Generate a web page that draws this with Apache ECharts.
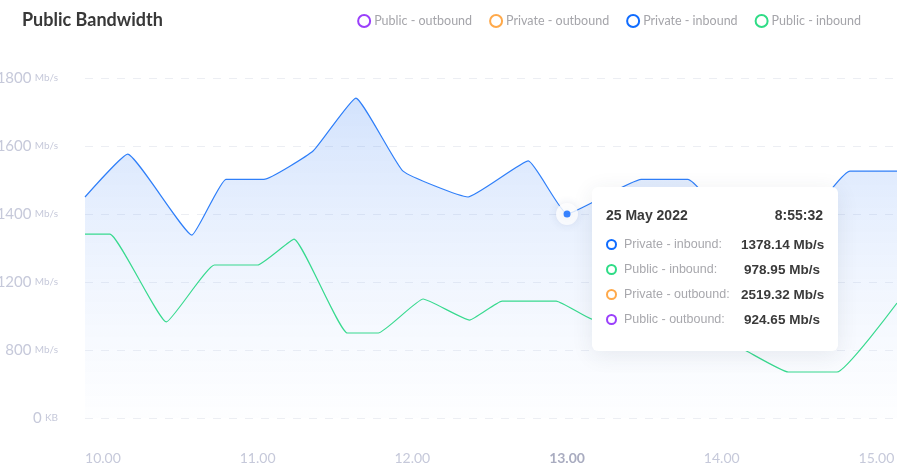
<!DOCTYPE html>
<html>
<head>
<meta charset="utf-8">
<title>Public Bandwidth</title>
<script src="https://cdn.jsdelivr.net/npm/echarts@6/dist/echarts.min.js"></script>
<style>
  html, body { margin: 0; padding: 0; background: #fff; }
  #bandwidth_chart { width: 897px; height: 473px; }
</style>
</head>
<body>
<div id="bandwidth_chart"></div>
<script>
// series names, in legend order
const seriesNames = ['Public - outbound', 'Private - outbound', 'Private - inbound', 'Public - inbound'];

// Private - inbound (hours, Mb/s)
const privateInTimes = [9.884, 10.16, 10.575, 10.795, 11.04, 11.36, 11.635, 11.94, 12.36, 12.75, 13.0, 13.48, 13.78, 14.29, 14.83, 15.133];
const privateInValues = [1450, 1576, 1338, 1502, 1502, 1586, 1741, 1526, 1450, 1556, 1400, 1502, 1502, 1236, 1526, 1526];

// Public - inbound (hours, Mb/s)
const publicInTimes = [9.884, 10.045, 10.41, 10.72, 11.0, 11.235, 11.58, 11.78, 12.07, 12.37, 12.58, 12.93, 13.16, 13.86, 14.16, 14.43, 14.745, 15.133];
const publicInValues = [1341, 1341, 965, 1250, 1250, 1326, 900, 900, 1100, 976, 1088, 1088, 982, 929, 788, 541, 541, 1076];

// y axis ticks (evenly spaced on screen)
const yTickValues = [0, 800, 1200, 1400, 1600, 1800];
const yTickUnits = ['KB', 'Mb/s', 'Mb/s', 'Mb/s', 'Mb/s', 'Mb/s'];

// x axis ticks
const xTickValues = [10, 11, 12, 13, 14, 15];
const xActiveTick = 13;

// tooltip readout
const tooltipDate = '25 May 2022';
const tooltipTime = '8:55:32';
const tooltipNames = ['Private - inbound', 'Public - inbound', 'Private - outbound', 'Public - outbound'];
const tooltipValues = ['1378.14', '978.95', '2519.32', '924.65'];
const hoverIndex = 10; // point of Private - inbound under the cursor

const colors = {
  'Public - outbound': '#9a3ffb',
  'Private - outbound': '#ffa94a',
  'Private - inbound': '#0f6cff',
  'Public - inbound': '#2fdc86'
};

// y ticks are evenly spaced, so map Mb/s onto tick slots
function toSlot(v) {
  for (let i = 1; i < yTickValues.length; i++) {
    if (v <= yTickValues[i]) {
      const a = yTickValues[i - 1], b = yTickValues[i];
      return i - 1 + (v - a) / (b - a);
    }
  }
  return yTickValues.length - 1;
}

function pairs(times, vals) {
  return times.map((t, i) => [t, toSlot(vals[i])]);
}

const font = 'Lato, "Noto Sans", sans-serif';

function ring(c) {
  return `<span style="display:inline-block;width:7px;height:7px;border:2px solid ${c};border-radius:50%;margin-right:7px;"></span>`;
}

function tooltipHtml() {
  let html = `<div style="width:217px;font-family:${font};">`;
  html += `<div style="display:flex;justify-content:space-between;font-size:14px;font-weight:700;color:#3a3a3a;line-height:18px;height:18px;margin-bottom:8px;">
             <span>${tooltipDate}</span><span>${tooltipTime}</span></div>`;
  tooltipNames.forEach((n, i) => {
    html += `<div style="display:flex;align-items:center;height:25px;">
               ${ring(colors[n])}
               <span style="font-size:12.5px;color:#a8a8ad;">${n}:</span>
               <span style="margin-left:auto;width:82px;text-align:center;font-size:13.5px;font-weight:700;color:#3a3a3a;">${tooltipValues[i]} Mb/s</span>
             </div>`;
  });
  html += '</div>';
  return html;
}

const chart = echarts.init(document.getElementById('bandwidth_chart'));

const option = {
  animation: false,
  title: {
    text: 'Public Bandwidth',
    left: 17,
    top: 6,
    textStyle: { fontFamily: font, fontSize: 18, fontWeight: 700, color: '#383838' }
  },
  legend: {
    right: 31,
    top: 9,
    itemWidth: 12,
    itemHeight: 12,
    itemGap: 17,
    icon: 'circle',
    textStyle: { fontFamily: font, fontSize: 12.5, color: '#a5a5aa', padding: [0, 0, 0, -1] },
    data: seriesNames.map(n => ({
      name: n,
      itemStyle: { color: '#fff', borderColor: colors[n], borderWidth: 2 }
    }))
  },
  tooltip: {
    trigger: 'item',
    alwaysShowContent: true,
    position: [592, 187],
    padding: [19, 15, 19, 14],
    backgroundColor: '#fff',
    borderWidth: 0,
    borderRadius: 6,
    transitionDuration: 0,
    extraCssText: 'box-shadow: 0 4px 22px rgba(40,50,80,0.09);',
    formatter: tooltipHtml
  },
  grid: { left: 85, right: 0, top: 78, bottom: 55, outerBoundsMode: 'none' },
  xAxis: {
    type: 'value',
    min: 9.884,
    max: 15.133,
    axisLine: { show: false },
    axisTick: { show: false },
    splitLine: { show: false },
    axisLabel: {
      customValues: xTickValues,
      margin: 33,
      fontFamily: font,
      fontSize: 14,
      color: '#c6c9da',
      formatter: v => v === xActiveTick ? '{a|' + v.toFixed(2) + '}' : v.toFixed(2),
      rich: { a: { fontFamily: font, fontSize: 14, fontWeight: 700, color: '#a9acc0' } }
    }
  },
  yAxis: {
    type: 'value',
    min: 0,
    max: yTickValues.length - 1,
    interval: 1,
    axisLine: { show: false },
    axisTick: { show: false },
    splitLine: { lineStyle: { color: '#eceef3', type: [8, 8], width: 1 } },
    axisLabel: {
      margin: 27,
      formatter: v => '{n|' + yTickValues[v] + '} {u|' + yTickUnits[v] + '}',
      rich: {
        n: { fontFamily: font, fontSize: 15, color: '#c6c9da' },
        u: { fontFamily: font, fontSize: 10, color: '#c6c9da' }
      }
    }
  },
  series: [
    { name: 'Public - outbound', type: 'line', data: [], itemStyle: { color: colors['Public - outbound'] } },
    { name: 'Private - outbound', type: 'line', data: [], itemStyle: { color: colors['Private - outbound'] } },
    {
      name: 'Private - inbound',
      type: 'line',
      smooth: 0.12,
      symbol: 'none',
      data: pairs(privateInTimes, privateInValues),
      itemStyle: { color: colors['Private - inbound'] },
      lineStyle: { color: '#2f7ff9', width: 1.2 },
      areaStyle: {
        color: new echarts.graphic.LinearGradient(0, 0, 0, 1, [
          { offset: 0, color: 'rgba(45,120,245,0.3)' },
          { offset: 1, color: 'rgba(240,245,255,0.15)' }
        ])
      },
      z: 2
    },
    {
      name: 'Public - inbound',
      type: 'line',
      smooth: 0.12,
      symbol: 'none',
      data: pairs(publicInTimes, publicInValues),
      itemStyle: { color: colors['Public - inbound'] },
      lineStyle: { color: '#38da8f', width: 1.2 },
      z: 3
    },
    {
      name: 'hover-ring',
      type: 'scatter',
      data: [[privateInTimes[hoverIndex], toSlot(privateInValues[hoverIndex])]],
      symbolSize: 22,
      itemStyle: { color: '#fff', shadowBlur: 8, shadowColor: 'rgba(30,60,120,0.15)' },
      emphasis: { disabled: true },
      z: 5
    },
    {
      name: 'hover-dot',
      type: 'scatter',
      data: [[privateInTimes[hoverIndex], toSlot(privateInValues[hoverIndex])]],
      symbolSize: 7,
      itemStyle: { color: '#0a66ff' },
      emphasis: { disabled: true },
      z: 6
    }
  ]
};

chart.setOption(option);
chart.dispatchAction({ type: 'showTip', seriesIndex: 5, dataIndex: 0 });
</script>
</body>
</html>
